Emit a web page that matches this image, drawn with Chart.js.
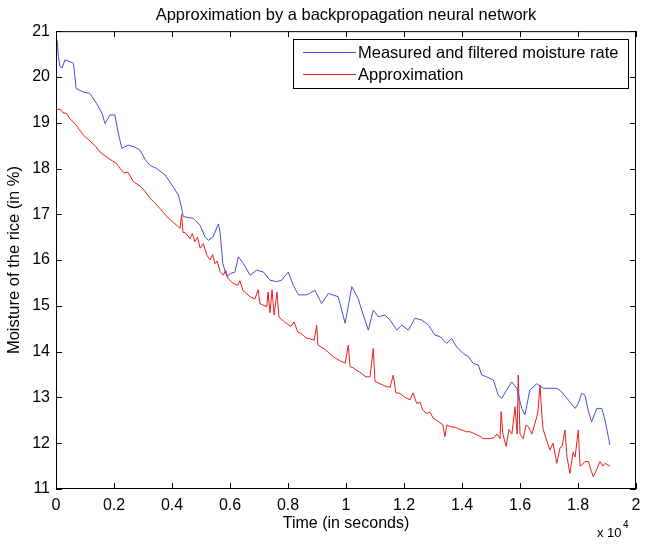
<!DOCTYPE html>
<html>
<head>
<meta charset="utf-8">
<title>Approximation by a backpropagation neural network</title>
<script src="https://cdn.jsdelivr.net/npm/chart.js@4.4.1/dist/chart.umd.min.js"></script>
<style>
  body { margin: 0; background: #fff; }
</style>
</head>
<body>
<canvas id="moisture-chart" width="650" height="545"></canvas>
<script>
// --- Data (time in seconds, moisture in %) ---
const seriesLabels = ['Measured and filtered moisture rate', 'Approximation'];

const measuredTime = [
    45, 80, 140, 210, 310, 410, 600, 655, 690, 940,
    1170, 1400, 1590, 1690, 1860, 2030, 2140, 2270, 2490, 2720,
    2900, 3070, 3240, 3470, 3760, 4040, 4220, 4310, 4390, 4730,
    4970, 5140, 5250, 5410, 5600, 5660, 5750, 5890, 6000, 6170,
    6290, 6460, 6690, 6920, 7150, 7380, 7610, 7780, 8010, 8180,
    8360, 8640, 8930, 9160, 9390, 9730, 9970, 10200, 10420, 10540,
    10770, 10940, 11120, 11340, 11520, 11750, 11920, 12150, 12380, 12610,
    12840, 13070, 13240, 13470, 13640, 13820, 14040, 14220, 14390, 14560,
    14680, 14850, 15080, 15250, 15370, 15540, 15710, 15890, 16060, 16170,
    16340, 16580, 16800, 17270, 17440, 17670, 17900, 18010, 18130, 18240,
    18360, 18470, 18650, 18820, 18930, 19100
];
const measuredMoisture = [
    20.8, 20.45, 20.22, 20.2, 20.37, 20.35, 20.3, 20.0, 19.75, 19.67,
    19.64, 19.42, 19.2, 18.98, 19.17, 19.17, 18.8, 18.44, 18.51, 18.47,
    18.4, 18.2, 18.07, 18.0, 17.86, 17.6, 17.42, 17.2, 16.95, 16.91,
    16.76, 16.5, 16.43, 16.5, 16.79, 16.6, 15.93, 15.64, 15.7, 15.74,
    16.07, 15.93, 15.67, 15.78, 15.74, 15.56, 15.53, 15.56, 15.74, 15.45,
    15.24, 15.24, 15.34, 15.05, 15.27, 15.2, 14.62, 15.42, 15.16, 14.91,
    14.47, 14.91, 14.76, 14.8, 14.69, 14.47, 14.58, 14.47, 14.73, 14.69,
    14.58, 14.36, 14.33, 14.18, 14.29, 14.1, 13.96, 13.89, 13.74, 13.71,
    13.49, 13.45, 13.38, 13.05, 12.98, 13.16, 13.34, 13.2, 12.76, 12.62,
    13.16, 13.3, 13.2, 13.2, 13.12, 12.94, 12.76, 12.87, 13.09, 13.05,
    12.69, 12.47, 12.76, 12.76, 12.51, 11.96
];

const approxTime = [
    20, 140, 240, 370, 480, 690, 940, 1170, 1345, 1520,
    1690, 1860, 2090, 2210, 2340, 2480, 2670, 2900, 3070, 3240,
    3410, 3590, 3820, 4050, 4280, 4330, 4380, 4450, 4620, 4700,
    4790, 4880, 4970, 5080, 5200, 5310, 5400, 5480, 5560, 5660,
    5770, 5850, 5930, 6110, 6270, 6340, 6450, 6690, 6860, 6970,
    7030, 7270, 7310, 7380, 7450, 7520, 7620, 7690, 7880, 8100,
    8210, 8340, 8450, 8620, 8760, 8900, 8990, 9030, 9270, 9560,
    9790, 9970, 10080, 10140, 10240, 10340, 10480, 10690, 10830, 10940,
    11000, 11170, 11340, 11520, 11630, 11720, 11860, 12030, 12210, 12310,
    12440, 12550, 12650, 12780, 12900, 13000, 13130, 13240, 13340, 13410,
    13480, 13590, 13760, 13930, 14160, 14280, 14450, 14620, 14730, 14960,
    15100, 15210, 15310, 15350, 15410, 15520, 15620, 15720, 15830, 15900,
    15940, 16000, 16110, 16210, 16290, 16410, 16580, 16620, 16690, 16760,
    16800, 16900, 17030, 17140, 17270, 17380, 17450, 17550, 17620, 17720,
    17830, 17900, 18010, 18070, 18130, 18240, 18360, 18450, 18530, 18640,
    18760, 18860, 18930, 19040, 19100
];
const approxMoisture = [
    19.28, 19.3, 19.22, 19.2, 19.09, 18.95, 18.73, 18.6, 18.5, 18.36,
    18.28, 18.2, 18.11, 18.0, 17.9, 17.92, 17.71, 17.62, 17.5, 17.35,
    17.25, 17.12, 16.95, 16.82, 16.69, 17.0, 16.6, 16.6, 16.47, 16.58,
    16.4, 16.5, 16.26, 16.36, 16.11, 16.0, 16.12, 15.92, 15.98, 15.75,
    15.67, 15.78, 15.6, 15.49, 15.45, 15.55, 15.33, 15.2, 15.15, 15.35,
    15.05, 14.98, 15.3, 14.85, 15.35, 14.8, 15.3, 14.75, 14.65, 14.55,
    14.65, 14.42, 14.4, 14.3, 14.28, 14.25, 14.58, 14.15, 14.05, 13.89,
    13.8, 13.75, 14.14, 13.67, 13.65, 13.6, 13.55, 13.45, 13.45, 14.07,
    13.35, 13.3, 13.25, 13.22, 13.49, 13.1, 13.09, 13.0, 12.95, 13.1,
    12.87, 12.9, 12.72, 12.65, 12.68, 12.55, 12.5, 12.45, 12.4, 12.14,
    12.4, 12.36, 12.35, 12.3, 12.25, 12.25, 12.2, 12.15, 12.1, 12.1,
    12.12, 12.2, 12.1, 12.69, 12.2, 11.93, 12.3, 12.2, 12.8, 12.2,
    13.49, 12.2, 12.1, 12.4, 12.36, 12.2, 12.58, 12.7, 13.27, 12.55,
    12.3, 12.1, 11.85, 12.0, 11.56, 11.9, 11.93, 12.29, 11.7, 11.34,
    11.8, 11.7, 12.29, 11.5, 11.52, 11.6, 11.6, 11.4, 11.27, 11.42,
    11.6, 11.5, 11.56, 11.52, 11.5
];

const FONT = '"Liberation Sans", Arial, Helvetica, sans-serif';
const TICK_LEN = 6;

function toPoints(xs, ys) {
    return xs.map((x, i) => ({ x: x, y: ys[i] }));
}

// Matlab style box round the axes with ticks pointing inwards on all four sides
const framePlugin = {
    id: 'frame',
    afterDraw(chart) {
        const { ctx, chartArea: a, scales } = chart;
        ctx.save();
        ctx.strokeStyle = '#000';
        ctx.lineWidth = 1;
        ctx.strokeRect(a.left + 0.5, a.top + 0.5, a.width - 1, a.height - 1);

        ctx.beginPath();
        scales.x.ticks.forEach(t => {
            const px = Math.round(scales.x.getPixelForValue(t.value)) + 0.5;
            ctx.moveTo(px, a.bottom);
            ctx.lineTo(px, a.bottom - TICK_LEN);
            ctx.moveTo(px, a.top);
            ctx.lineTo(px, a.top + TICK_LEN);
        });
        scales.y.ticks.forEach(t => {
            const py = Math.round(scales.y.getPixelForValue(t.value)) + 0.5;
            ctx.moveTo(a.left, py);
            ctx.lineTo(a.left + TICK_LEN, py);
            ctx.moveTo(a.right, py);
            ctx.lineTo(a.right - TICK_LEN, py);
        });
        ctx.stroke();

        // exponent of the x axis
        ctx.fillStyle = '#000';
        ctx.textBaseline = 'alphabetic';
        ctx.textAlign = 'left';
        ctx.font = '13px ' + FONT;
        ctx.fillText('x 10', 597, 537);
        ctx.font = '10px ' + FONT;
        ctx.fillText('4', 623, 528);
        ctx.restore();
    }
};

// Legend in a framed box at the top right of the plot area
const boxLegendPlugin = {
    id: 'boxLegend',
    afterDraw(chart) {
        const { ctx, chartArea: a } = chart;
        const box = { left: 293, top: 39, right: a.right - 8, bottom: 88 };
        ctx.save();
        ctx.fillStyle = '#fff';
        ctx.fillRect(box.left, box.top, box.right - box.left, box.bottom - box.top);
        ctx.strokeStyle = '#000';
        ctx.lineWidth = 1;
        ctx.strokeRect(box.left + 0.5, box.top + 0.5, box.right - box.left, box.bottom - box.top);

        ctx.font = '16.5px ' + FONT;
        ctx.textBaseline = 'middle';
        ctx.textAlign = 'left';
        chart.data.datasets.forEach((ds, i) => {
            const y = 52 + i * 22;
            ctx.strokeStyle = ds.borderColor;
            ctx.beginPath();
            ctx.moveTo(box.left + 10, y + 0.5);
            ctx.lineTo(box.left + 63, y + 0.5);
            ctx.stroke();
            ctx.fillStyle = '#000';
            ctx.fillText(ds.label, box.left + 65, y + 1);
        });
        ctx.restore();
    }
};

const ctx = document.getElementById('moisture-chart');

new Chart(ctx, {
    type: 'line',
    data: {
        datasets: [
            {
                label: seriesLabels[0],
                data: toPoints(measuredTime, measuredMoisture),
                borderColor: 'rgb(70, 80, 205)',
                borderWidth: 1,
                pointRadius: 0,
                tension: 0
            },
            {
                label: seriesLabels[1],
                data: toPoints(approxTime, approxMoisture),
                borderColor: 'rgb(235, 30, 30)',
                borderWidth: 1,
                pointRadius: 0,
                tension: 0
            }
        ]
    },
    options: {
        responsive: false,
        animation: false,
        layout: { padding: { top: 0, right: 14, left: 0, bottom: 0 } },
        plugins: {
            legend: { display: false },
            tooltip: { enabled: false },
            title: {
                display: true,
                fullSize: false,
                text: 'Approximation by a backpropagation neural network',
                color: '#000',
                font: { family: FONT, size: 16.5, weight: 'normal', lineHeight: 1.1 },
                padding: { top: 6, bottom: 7 }
            }
        },
        scales: {
            x: {
                type: 'linear',
                min: 0,
                max: 20000,
                grid: { display: false, drawTicks: false },
                border: { display: false },
                ticks: {
                    stepSize: 2000,
                    color: '#000',
                    padding: 7,
                    maxRotation: 0,
                    font: { family: FONT, size: 16 },
                    callback: v => String(Math.round(v / 1000) / 10)
                },
                title: {
                    display: true,
                    text: 'Time (in seconds)',
                    color: '#000',
                    font: { family: FONT, size: 16 },
                    padding: { top: 0, bottom: 12 }
                },
                afterFit: scale => { scale.height = 56; }
            },
            y: {
                min: 11,
                max: 21,
                grid: { display: false, drawTicks: false },
                border: { display: false },
                ticks: {
                    stepSize: 1,
                    color: '#000',
                    padding: 6,
                    font: { family: FONT, size: 16 }
                },
                title: {
                    display: true,
                    text: 'Moisture of the rice (in %)',
                    color: '#000',
                    font: { family: FONT, size: 16.5 },
                    padding: { top: 5, bottom: 0 }
                },
                afterFit: scale => { scale.width = 56; }
            }
        }
    },
    plugins: [framePlugin, boxLegendPlugin]
});
</script>
</body>
</html>
